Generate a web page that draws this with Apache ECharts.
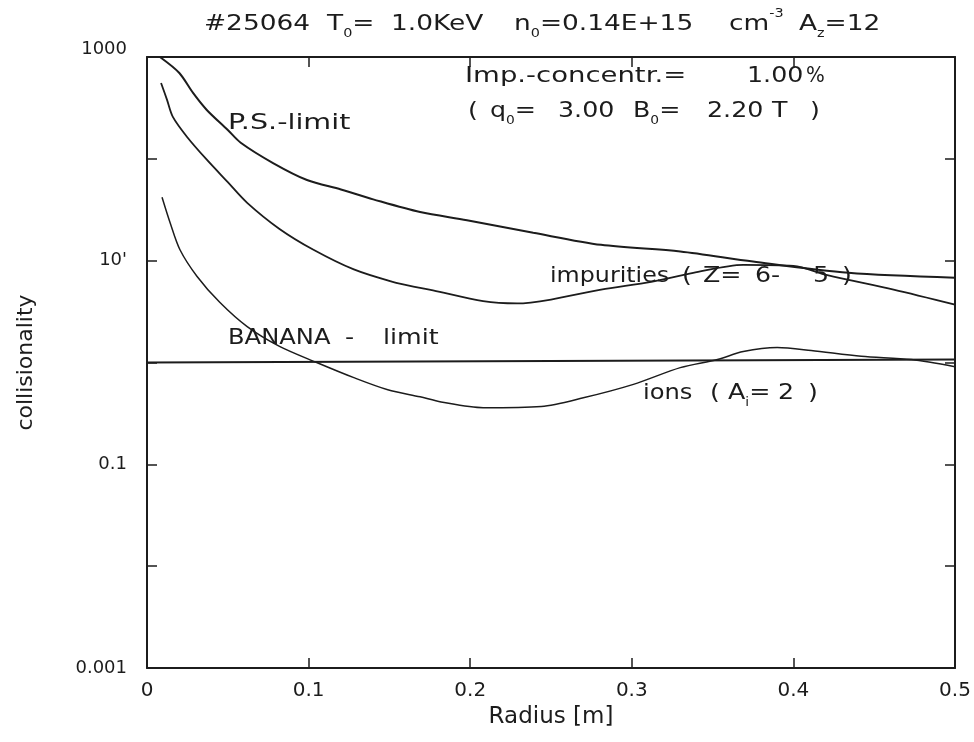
<!DOCTYPE html>
<html><head><meta charset="utf-8">
<script src="https://cdn.jsdelivr.net/npm/echarts@6/dist/echarts.min.js"></script>
<style>html,body{margin:0;padding:0;background:#fff}#c{width:974px;height:742px}</style>
</head><body><div id="c"></div><script>
// ---- data ----
const psRadius  = [0.008,0.020,0.0285,0.037,0.050,0.058,0.078,0.099,0.120,0.140,0.169,0.198,0.239,0.281,0.330,0.375,0.434,0.5];
const psValues  = [1000,697,444,302,192,144,91,62,50,40,30,25,18.8,14.3,12.3,9.8,7.6,6.8];

const impRadius = [0.0087,0.0124,0.016,0.0248,0.037,0.050,0.062,0.082,0.103,0.128,0.152,0.169,0.177,0.208,0.229,0.250,0.281,0.312,0.338,0.369,0.400,0.421,0.462,0.5];
const impValues = [556,379,258,164,98,59,37,20.5,12.8,8.2,6.2,5.4,5.1,4.0,3.8,4.15,5.2,6.2,7.6,9.1,8.9,7.2,5.2,3.7];

const ionRadius = [0.0093,0.0143,0.0204,0.031,0.045,0.062,0.082,0.105,0.128,0.149,0.169,0.182,0.208,0.244,0.270,0.301,0.330,0.353,0.369,0.390,0.411,0.442,0.473,0.5];
const ionValues = [42,23.6,12.8,7.0,3.9,2.25,1.44,1.0,0.71,0.54,0.46,0.41,0.36,0.37,0.45,0.61,0.89,1.07,1.28,1.40,1.31,1.15,1.07,0.91];

const bananaRadius = [0, 0.5];
const bananaValues = [1.0, 1.07];

const xTickValues = [0, 0.1, 0.2, 0.3, 0.4, 0.5];
const xTickTexts  = ['0', '0.1', '0.2', '0.3', '0.4', '0.5'];
const yTickExponents = [-3, -2, -1, 0, 1, 2, 3];
const yTickTexts     = ['0.001', '', '0.1', '', "10'", '', '1000'];

const xAxisName = 'Radius [m]';
const yAxisName = 'collisionality';

// ---- chart ----
const INK = '#1c1c1c';
const FONT = '"DejaVu Sans"';
const pairs = (xs, ys) => xs.map((x, i) => [x, ys[i]]);

const rich = {
  m: {fontSize: 22, fontFamily: FONT, color: INK, lineHeight: 32, verticalAlign: 'middle'},
  s: {fontSize: 12, fontFamily: FONT, color: INK, lineHeight: 32, verticalAlign: 'bottom'},
  p: {fontSize: 12, fontFamily: FONT, color: INK, lineHeight: 32, verticalAlign: 'top'}
};
function txt(x, y, content, sx) {
  return {
    type: 'text', x: x, y: y, scaleX: sx || 1.15, silent: true,
    style: {text: content, rich: rich, fill: INK, align: 'left', verticalAlign: 'middle',
            fontSize: 22, fontFamily: FONT}
  };
}
const annotations = [
  // title pieces
  txt(204, 24, '{m|#25064}', 1.2),
  txt(327, 24, '{m|T}{s|0}{m|=}', 1.2),
  txt(391, 24, '{m|1.0KeV}', 1.2),
  txt(514, 24, '{m|n}{s|0}{m|=0.14E+15}', 1.2),
  txt(729, 24, '{m|cm}{p|-3}', 1.2),
  txt(799, 24, '{m|A}{s|z}{m|=12}', 1.2),
  // info box
  txt(465, 76, '{m|Imp.-concentr.=}', 1.25),
  txt(747, 76, '{m|1.00}'),
  txt(806, 76, '{m|%}', 0.9),
  txt(468, 111, '{m|(}'),
  txt(490, 111, '{m|q}{s|0}{m|=}'),
  txt(558, 111, '{m|3.00}'),
  txt(633, 111, '{m|B}{s|0}{m|=}'),
  txt(707, 111, '{m|2.20}'),
  txt(772, 111, '{m|T}'),
  txt(810, 111, '{m|)}'),
  // curve labels
  txt(228, 123, '{m|P.S.-limit}', 1.3),
  txt(228, 338, '{m|BANANA}', 1.1),
  txt(345, 338, '{m|-}'),
  txt(383, 338, '{m|limit}'),
  txt(550, 276, '{m|impurities}', 1.08),
  txt(682, 276, '{m|(}'),
  txt(703, 276, '{m|Z=}'),
  txt(755, 276, '{m|6-}'),
  txt(813, 276, '{m|5}'),
  txt(842, 276, '{m|)}'),
  txt(643, 393, '{m|ions}', 1.1),
  txt(710, 393, '{m|(}'),
  txt(728, 393, '{m|A}{s|i}{m|=}'),
  txt(778, 393, '{m|2}'),
  txt(808, 393, '{m|)}')
];

const axisLine = {show: true, onZero: false, lineStyle: {color: INK, width: 2}};
const tick = {show: true, inside: true, length: 10, lineStyle: {color: INK, width: 1.5}};

function yLabel(v) {
  const e = Math.round(Math.log10(v));
  const t = yTickTexts[yTickExponents.indexOf(e)] || '';
  if (!t) return '';
  return e === 3 ? '{up|' + t + '}' : t;
}
function xLabel(v) {
  const i = xTickValues.findIndex(t => Math.abs(t - v) < 1e-9);
  return i >= 0 ? xTickTexts[i] : '';
}

const chart = echarts.init(document.getElementById('c'), null, {renderer: 'canvas'});
chart.setOption({
  backgroundColor: '#fff',
  animation: false,
  grid: {left: 147, right: 19, top: 57, bottom: 74, show: false},
  xAxis: [{
    type: 'value', min: 0, max: 0.5, interval: 0.1, position: 'bottom',
    name: xAxisName, nameLocation: 'middle', nameGap: 36,
    nameTextStyle: {fontSize: 23, fontFamily: FONT, color: INK},
    axisLine: axisLine, axisTick: tick, splitLine: {show: false},
    axisLabel: {formatter: xLabel, fontSize: 20, fontFamily: FONT, color: INK, margin: 13}
  }, {
    type: 'value', min: 0, max: 0.5, interval: 0.1, position: 'top',
    axisLine: axisLine, axisTick: tick, splitLine: {show: false}, axisLabel: {show: false}
  }],
  yAxis: [{
    type: 'log', logBase: 10, min: 0.001, max: 1000, splitNumber: 6, position: 'left',
    name: yAxisName, nameLocation: 'middle', nameGap: 110, nameRotate: 90,
    nameTextStyle: {fontSize: 22, fontFamily: FONT, color: INK},
    axisLine: axisLine, axisTick: tick, splitLine: {show: false}, minorTick: {show: false},
    axisLabel: {formatter: yLabel, fontSize: 18, fontFamily: FONT, color: INK, margin: 20,
      rich: {up: {fontSize: 18, fontFamily: FONT, color: INK, padding: [0, 0, 16, 0]}}}
  }, {
    type: 'log', logBase: 10, min: 0.001, max: 1000, splitNumber: 6, position: 'right',
    axisLine: axisLine, axisTick: tick, splitLine: {show: false}, axisLabel: {show: false}
  }],
  series: [
    {name: 'P.S.-limit', type: 'line', data: pairs(psRadius, psValues), smooth: 0.3,
     showSymbol: false, lineStyle: {color: INK, width: 2}, xAxisIndex: 0, yAxisIndex: 0},
    {name: 'impurities', type: 'line', data: pairs(impRadius, impValues), smooth: 0.3,
     showSymbol: false, lineStyle: {color: INK, width: 1.8}, xAxisIndex: 0, yAxisIndex: 0},
    {name: 'ions', type: 'line', data: pairs(ionRadius, ionValues), smooth: 0.3,
     showSymbol: false, lineStyle: {color: INK, width: 1.5}, xAxisIndex: 0, yAxisIndex: 0},
    {name: 'BANANA-limit', type: 'line', data: pairs(bananaRadius, bananaValues), showSymbol: false,
     lineStyle: {color: INK, width: 1.8}, xAxisIndex: 0, yAxisIndex: 0}
  ],
  graphic: annotations
});
</script></body></html>
